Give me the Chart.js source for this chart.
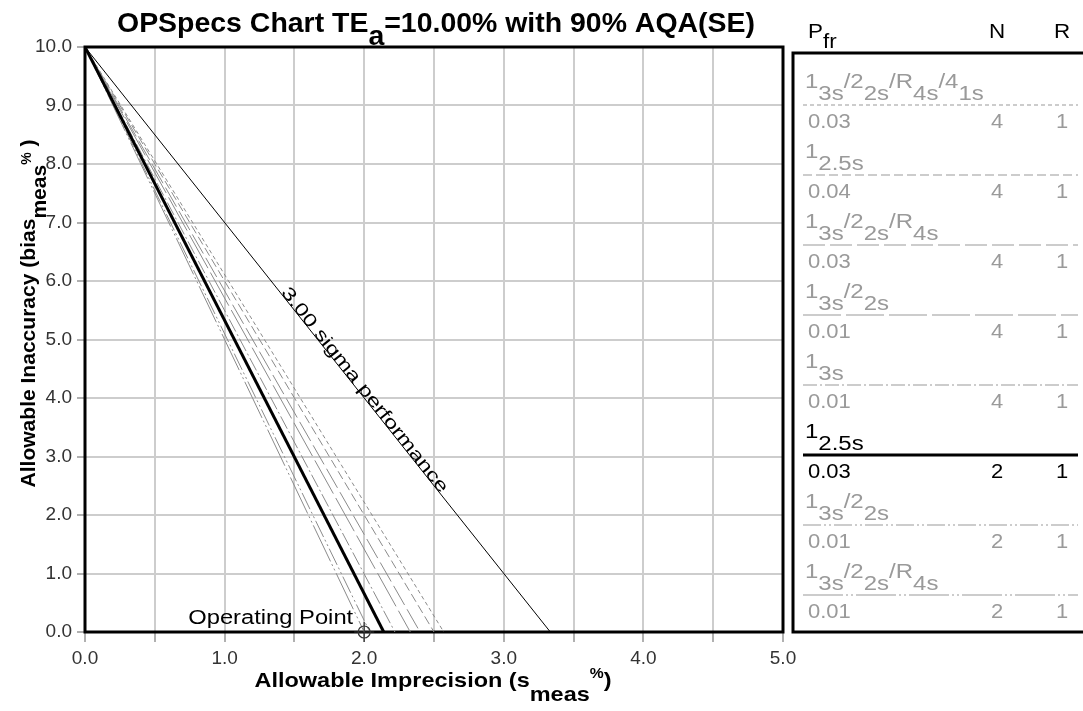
<!DOCTYPE html>
<html>
<head>
<meta charset="utf-8">
<script src="https://cdn.jsdelivr.net/npm/chart.js@4/dist/chart.umd.min.js"></script>
<style>
  html, body { margin: 0; padding: 0; background: #fff; }
  canvas { display: block; }
</style>
</head>
<body>
<canvas id="chart" width="1083" height="711"></canvas>
<script>
// Datos del gráfico OPSpecs
const TEa = 10.0;
const aqa = 90;
const sigma = 3.00;
const reglas = ['1_{3s}/2_{2s}/R_{4s}/4_{1s}', '1_{2.5s}', '1_{3s}/2_{2s}/R_{4s}', '1_{3s}/2_{2s}',
                '1_{3s}', '1_{2.5s}', '1_{3s}/2_{2s}', '1_{3s}/2_{2s}/R_{4s}'];
const pfr = ['0.03', '0.04', '0.03', '0.01', '0.01', '0.03', '0.01', '0.01'];
const nCtrl = [4, 4, 4, 4, 4, 2, 2, 2];
const rCorr = [1, 1, 1, 1, 1, 1, 1, 1];
const intercepto = [2.57, 2.50, 2.40, 2.33, 2.22, 2.14, 2.04, 2.00]; // s_meas donde bias = 0
const opX = [2.0];
const opY = [0.0];
const ejeX = [0, 5];
const ejeY = [0, 10];

const GRIS = '#8a8a8a';
const GRIS_TXT = '#9a9a9a';
const estilos = [
  { color: GRIS, ancho: 1, dash: [4, 3] },
  { color: GRIS, ancho: 1, dash: [9, 4] },
  { color: GRIS, ancho: 1, dash: [22, 5] },
  { color: GRIS, ancho: 1, dash: [38, 5] },
  { color: GRIS, ancho: 1, dash: [14, 3, 2, 3] },
  { color: '#000', ancho: 3, dash: [] },
  { color: GRIS, ancho: 1, dash: [18, 3, 2, 3, 2, 3] },
  { color: GRIS, ancho: 1, dash: [40, 3, 2, 3, 2, 3] }
];

// separa '_{..}' (subíndice) y '^{..}' (superíndice)
function trozos(str) {
  const out = [];
  const re = /([_^])\{([^}]*)\}/g;
  let last = 0, m;
  while ((m = re.exec(str))) {
    if (m.index > last) out.push({ t: str.slice(last, m.index), tipo: '' });
    out.push({ t: m[2], tipo: m[1] });
    last = re.lastIndex;
  }
  if (last < str.length) out.push({ t: str.slice(last), tipo: '' });
  return out;
}

function textoRico(ctx, str, x, y, o) {
  const partes = trozos(str);
  const fuente = (tam) => `${o.bold ? 'bold ' : ''}${tam}px "Liberation Sans", Arial, sans-serif`;
  const tamDe = (p) => p.tipo === '_' ? (o.subSize || o.size) : p.tipo === '^' ? (o.supSize || o.size) : o.size;
  let total = 0;
  const anchos = partes.map(p => {
    ctx.font = fuente(tamDe(p));
    const w = ctx.measureText(p.t).width;
    total += w;
    return w;
  });
  const sx = o.ancho ? o.ancho / total : (o.sx || 1);
  const W = total * sx;
  let x0 = x;
  if (o.align === 'center') x0 = x - W / 2;
  else if (o.align === 'right') x0 = x - W;
  ctx.save();
  ctx.translate(x0, y);
  ctx.scale(sx, 1);
  ctx.fillStyle = o.color || '#000';
  ctx.textBaseline = 'alphabetic';
  ctx.textAlign = 'left';
  let cx = 0;
  partes.forEach((p, i) => {
    ctx.font = fuente(tamDe(p));
    const dy = p.tipo === '_' ? (o.subDy || 0) : p.tipo === '^' ? (o.supDy || 0) : 0;
    ctx.fillText(p.t, cx, dy);
    cx += anchos[i];
  });
  ctx.restore();
}

const decorado = {
  id: 'decorado',
  beforeDatasetsDraw(chart) {
    const { ctx, chartArea: a } = chart;
    ctx.save();
    ctx.strokeStyle = '#000';
    ctx.lineWidth = 3;
    ctx.setLineDash([]);
    ctx.strokeRect(a.left, a.top, a.right - a.left, a.bottom - a.top);
    ctx.restore();
  },
  afterDraw(chart) {
    const { ctx, chartArea: a, scales } = chart;
    const xs = scales.x, ys = scales.y;

    // título
    textoRico(ctx, `OPSpecs Chart TE_{a}=${TEa.toFixed(2)}% with ${aqa}% AQA(SE)`,
      (a.left + a.right) / 2 + 2, 32, { size: 28, bold: true, subDy: 13, align: 'center', ancho: 638 });

    // títulos de ejes
    textoRico(ctx, 'Allowable Imprecision (s_{meas}^{%})', (a.left + a.right) / 2 - 1, 687,
      { size: 21, bold: true, subDy: 14, supSize: 14, supDy: -9, align: 'center', ancho: 357 });
    ctx.save();
    ctx.translate(35, (a.top + a.bottom) / 2 - 26);
    ctx.rotate(-Math.PI / 2);
    textoRico(ctx, 'Allowable Inaccuracy (bias_{meas}^{%} )', 0, 0,
      { size: 21, bold: true, subDy: 11, supSize: 14, supDy: -4, align: 'center', ancho: 348 });
    ctx.restore();

    // etiqueta de la línea sigma
    const s0 = 1.40;
    const p0x = xs.getPixelForValue(s0), p0y = ys.getPixelForValue(TEa - sigma * s0);
    const ang = Math.atan2(ys.getPixelForValue(0) - ys.getPixelForValue(TEa),
                           xs.getPixelForValue(TEa / sigma) - xs.getPixelForValue(0));
    ctx.save();
    ctx.translate(p0x, p0y);
    ctx.rotate(ang);
    textoRico(ctx, `${sigma.toFixed(2)} sigma performance`, 0, 0, { size: 18, ancho: 257 });
    ctx.restore();

    // punto de operación
    textoRico(ctx, 'Operating Point', xs.getPixelForValue(opX[0]) - 11, ys.getPixelForValue(opY[0]) - 8,
      { size: 20, align: 'right', ancho: 165 });

    // panel de reglas
    const L = { x: 793, top: 53, fila0: 105, paso: 70, xTexto: 805, xPfr: 808, xN: 997, xR: 1062, l0: 803, l1: 1078 };
    textoRico(ctx, 'P_{fr}', 808, 38, { size: 20, subDy: 10, sx: 1.12 });
    textoRico(ctx, 'N', L.xN, 38, { size: 20, align: 'center', sx: 1.12 });
    textoRico(ctx, 'R', L.xR, 38, { size: 20, align: 'center', sx: 1.12 });
    ctx.save();
    ctx.strokeStyle = '#000';
    ctx.lineWidth = 3;
    ctx.strokeRect(L.x, L.top, 1100 - L.x, a.bottom - L.top);
    ctx.restore();

    reglas.forEach((r, i) => {
      const y = L.fila0 + L.paso * i;
      const negro = estilos[i].color === '#000';
      const col = negro ? '#000' : GRIS_TXT;
      textoRico(ctx, r, L.xTexto, y - 17, { size: 20, subDy: 12, sx: 1.2, color: col });
      ctx.save();
      ctx.strokeStyle = negro ? '#000' : '#999';
      ctx.lineWidth = estilos[i].ancho;
      ctx.setLineDash(estilos[i].dash);
      ctx.beginPath();
      ctx.moveTo(L.l0, y);
      ctx.lineTo(L.l1, y);
      ctx.stroke();
      ctx.restore();
      textoRico(ctx, pfr[i], L.xPfr, y + 23, { size: 20, sx: 1.1, color: col });
      textoRico(ctx, String(nCtrl[i]), L.xN, y + 23, { size: 20, align: 'center', sx: 1.1, color: col });
      textoRico(ctx, String(rCorr[i]), L.xR, y + 23, { size: 20, align: 'center', sx: 1.1, color: col });
    });
  }
};

const datasets = [];
datasets.push({
  data: opX.map((x, i) => ({ x, y: opY[i] })),
  pointStyle: 'circle', pointRadius: 6, borderColor: '#333', backgroundColor: 'rgba(0,0,0,0)',
  borderWidth: 1.2, clip: false, order: 0
});
datasets.push({
  data: opX.map((x, i) => ({ x, y: opY[i] })),
  pointStyle: 'cross', pointRadius: 10, borderColor: '#333', borderWidth: 1.2, clip: false, order: 0
});
intercepto.forEach((s, i) => {
  datasets.push({
    data: [{ x: 0, y: TEa }, { x: s, y: 0 }],
    showLine: true, pointRadius: 0,
    borderColor: estilos[i].color, borderWidth: estilos[i].ancho, borderDash: estilos[i].dash,
    order: estilos[i].color === '#000' ? 1 : 2 + i
  });
});
datasets.push({
  data: [{ x: 0, y: TEa }, { x: TEa / sigma, y: 0 }],
  showLine: true, pointRadius: 0, borderColor: '#000', borderWidth: 1, order: 20
});

const fuenteTicks = { family: '"Liberation Sans", Arial, sans-serif', size: 19 };

new Chart(document.getElementById('chart').getContext('2d'), {
  type: 'scatter',
  data: { datasets },
  options: {
    responsive: false,
    animation: false,
    events: [],
    layout: { padding: { top: 47, right: 300, left: 0, bottom: 0 } },
    plugins: { legend: { display: false }, tooltip: { enabled: false } },
    scales: {
      x: {
        type: 'linear', min: ejeX[0], max: ejeX[1],
        afterFit(s) { s.height = 79; },
        border: { display: false },
        grid: { color: '#cdcdcd', lineWidth: 2, tickLength: 10, tickColor: '#b0b0b0', drawTicks: true },
        ticks: {
          stepSize: 0.5, autoSkip: false, maxRotation: 0, padding: 5,
          font: fuenteTicks, color: '#333',
          callback: v => (Math.abs(v % 1) < 1e-9 ? v.toFixed(1) : '')
        }
      },
      y: {
        type: 'linear', min: ejeY[0], max: ejeY[1],
        afterFit(s) { s.width = 85; },
        border: { display: false },
        grid: { color: '#cdcdcd', lineWidth: 2, tickLength: 8, tickColor: '#b0b0b0' },
        ticks: {
          stepSize: 1, padding: 5, font: fuenteTicks, color: '#333',
          callback: v => v.toFixed(1)
        }
      }
    }
  },
  plugins: [decorado]
});
</script>
</body>
</html>
